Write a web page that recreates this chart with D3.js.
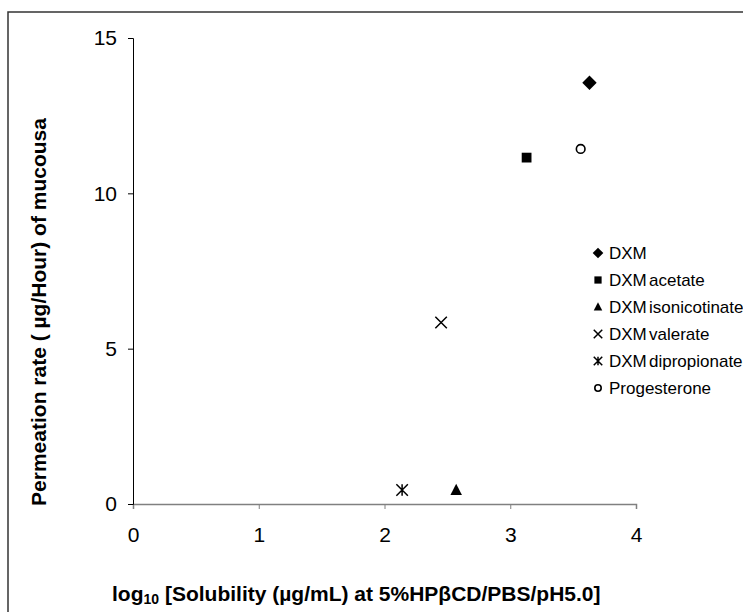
<!DOCTYPE html>
<html><head><meta charset="utf-8">
<script src="https://cdn.jsdelivr.net/npm/d3@7"></script>
<style>body{margin:0;background:#fff;} svg{display:block;font-family:"Liberation Sans",Arial,sans-serif;}</style>
</head><body>
<script>
const names = ["DXM","DXM acetate","DXM isonicotinate","DXM valerate","DXM dipropionate","Progesterone"];
const xValues = [3.63, 3.13, 2.57, 2.45, 2.14, 3.56];
const yValues = [13.56, 11.15, 0.45, 5.84, 0.45, 11.43];
const markers = ["diamond","square","triangle","cross","asterisk","circle"];
const xTicks = [0,1,2,3,4];
const yTicks = [0,5,10,15];

const W = 743, H = 612;
const svg = d3.select("body").append("svg").attr("width", W).attr("height", H);

// outer frame
svg.append("rect").attr("x",8).attr("y",12).attr("width",W).attr("height",H)
  .attr("fill","none").attr("stroke","#333").attr("stroke-width",1.5);

const x = d3.scaleLinear().domain([0,4]).range([133,636]);
const y = d3.scaleLinear().domain([0,15]).range([504,38]);

const gx = svg.append("g").attr("transform",`translate(0,${y(0)})`)
  .call(d3.axisBottom(x).tickValues(xTicks).tickFormat(d3.format("d")).tickSize(5).tickPadding(18));
gx.select(".domain").attr("stroke","#808080").attr("stroke-width",1.5);
gx.selectAll(".tick line").attr("stroke","#808080");
gx.selectAll("text").attr("font-size",21).attr("fill","#000").attr("font-family","Liberation Sans, Arial");

const gy = svg.append("g").attr("transform",`translate(${x(0)},0)`)
  .call(d3.axisLeft(y).tickValues(yTicks).tickFormat(d3.format("d")).tickSize(5).tickPadding(11));
gy.select(".domain").attr("stroke","#000");
gy.selectAll(".tick line").attr("stroke","#000");
gy.selectAll("text").attr("font-size",21).attr("fill","#000").attr("font-family","Liberation Sans, Arial");

function drawMarker(g, type, cx, cy, s) {
  const h = s/2;
  if (type==="diamond") {
    g.append("path").attr("d",`M${cx},${cy-h*1.25}L${cx+h*1.25},${cy}L${cx},${cy+h*1.25}L${cx-h*1.25},${cy}Z`).attr("fill","#000");
  } else if (type==="square") {
    g.append("rect").attr("x",cx-h*0.85).attr("y",cy-h*0.85).attr("width",s*0.85).attr("height",s*0.85).attr("fill","#000");
  } else if (type==="triangle") {
    g.append("path").attr("d",`M${cx},${cy-h*1.1}L${cx+h},${cy+h*0.85}L${cx-h},${cy+h*0.85}Z`).attr("fill","#000");
  } else if (type==="cross") {
    g.append("path").attr("d",`M${cx-h},${cy-h}L${cx+h},${cy+h}M${cx-h},${cy+h}L${cx+h},${cy-h}`).attr("stroke","#000").attr("stroke-width",1.5);
  } else if (type==="asterisk") {
    g.append("path").attr("d",`M${cx-h},${cy-h}L${cx+h},${cy+h}M${cx-h},${cy+h}L${cx+h},${cy-h}M${cx},${cy-h}L${cx},${cy+h}`).attr("stroke","#000").attr("stroke-width",1.5);
  } else if (type==="circle") {
    g.append("circle").attr("cx",cx).attr("cy",cy).attr("r",h*0.75).attr("fill","#fff").attr("stroke","#000").attr("stroke-width",1.6);
  }
}

const pts = svg.append("g");
names.forEach((n,i)=> drawMarker(pts, markers[i], x(xValues[i]), y(yValues[i]), 11.5));

// legend
const leg = svg.append("g");
const legY0 = 253, legDy = 27;
names.forEach((n,i)=>{
  const ly = legY0 + i*legDy;
  drawMarker(leg, markers[i], 598, ly, 8.5);
  leg.append("text").attr("x",609).attr("y",ly).attr("dy","0.35em")
    .attr("font-size",17).attr("word-spacing",-2.5).attr("fill","#000").text(n);
});

// axis titles
const xt = svg.append("text").attr("x",112).attr("y",601).attr("text-anchor","start")
  .attr("font-size",21).attr("font-weight","bold").attr("fill","#000");
xt.append("tspan").text("log");
xt.append("tspan").attr("font-size",14).attr("dy",3).text("10");
xt.append("tspan").attr("dy",-3).text(" [Solubility (\u00b5g/mL) at 5%HP\u03b2CD/PBS/pH5.0]");

svg.append("text").attr("transform","translate(46,312) rotate(-90)").attr("text-anchor","middle")
  .attr("font-size",21).attr("font-weight","bold").attr("fill","#000")
  .text("Permeation rate ( \u00b5g/Hour) of mucousa");
</script>
</body></html>
